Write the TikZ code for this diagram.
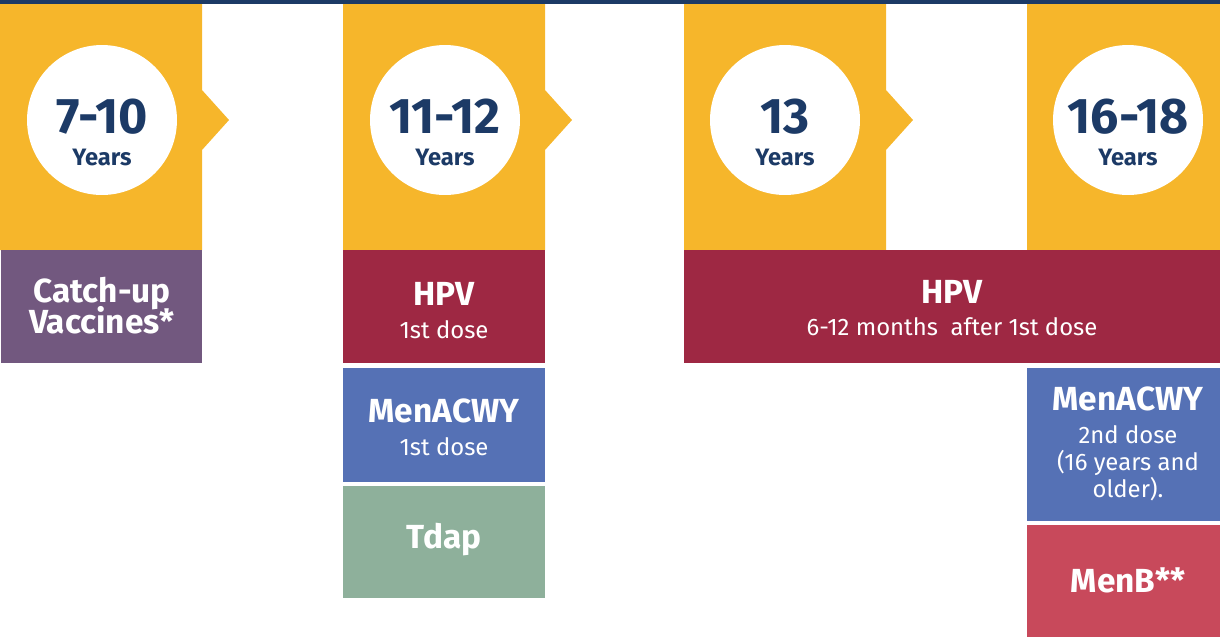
\documentclass[tikz,border=0pt]{standalone}
\usepackage{fontspec}
\setmainfont{Fira Sans}
\usepackage{xcolor}
\usepackage{tikz}
\usetikzlibrary{positioning}
\definecolor{navy}{HTML}{1C3A66}
\definecolor{gold}{HTML}{F6B62B}
\definecolor{catchup}{HTML}{72587F}
\definecolor{hpvred}{HTML}{9E2843}
\definecolor{menblue}{HTML}{5571B5}
\definecolor{tdapgreen}{HTML}{8EB09B}
\definecolor{menbred}{HTML}{C8495B}

\begin{document}
\begin{tikzpicture}[x=0.02cm,y=-0.02cm,
agecircle/.style={circle,fill=white,minimum size=3cm,inner sep=0},
agenum/.style={text=navy,font=\fontsize{28.5}{30}\selectfont\bfseries,anchor=base,inner sep=0},
ageyears/.style={text=navy,font=\fontsize{13.5}{15}\selectfont\bfseries,anchor=base,inner sep=0},
vaxname/.style={text=white,font=\fontsize{19}{21}\selectfont\bfseries,anchor=base,inner sep=0},
vaxnote/.style={text=white,font=\fontsize{13.6}{15}\selectfont,anchor=base,inner sep=0}]
\useasboundingbox (0,0) rectangle (1220,637);
\fill[navy] (0,0) rectangle (1220,4);
% age columns
\fill[gold] (0,4) rectangle (202,250) (202,90) -- (229,120) -- (202,150) -- cycle;
\fill[gold] (343,4) rectangle (545,250) (545,90) -- (572,120) -- (545,150) -- cycle;
\fill[gold] (684,4) rectangle (886,250) (886,90) -- (913,120) -- (886,150) -- cycle;
\fill[gold] (1027,4) rectangle (1220,250);
\node[agecircle] (c1) at (102,120) {};
\node[agecircle] (c2) at (445,120) {};
\node[agecircle] (c3) at (785,120) {};
\node[agecircle] (c4) at (1128,120) {};
\node[agenum] (a1) at (102,133) {7-10};
\node[agenum] (a2) at (445,133) {11-12};
\node[agenum] (a3) at (785,133) {13};
\node[agenum] (a4) at (1128,133) {16-18};
\node[ageyears] (y1) at (102,165) {Years};
\node[ageyears] (y2) at (445,165) {Years};
\node[ageyears] (y3) at (785,165) {Years};
\node[ageyears] (y4) at (1128,165) {Years};
% vaccine boxes
\fill[catchup] (1,250) rectangle (202,363);
\fill[hpvred] (343,250) rectangle (545,363);
\fill[menblue] (343,368) rectangle (545,482);
\fill[tdapgreen] (343,486) rectangle (545,598);
\fill[hpvred] (684,250) rectangle (1220,363);
\fill[menblue] (1027,368) rectangle (1220,521);
\fill[menbred] (1027,525) rectangle (1220,637);
\node[vaxname] (v1) at (102,302) {Catch-up};
\node[vaxname] (v1b) at (102,333) {Vaccines*};
\node[vaxname] (h1) at (444,305) {HPV};
\node[vaxnote] (h1n) at (444,338) {1st dose};
\node[vaxname] (m1) at (444,422) {MenACWY};
\node[vaxnote] (m1n) at (444,455) {1st dose};
\node[vaxname] (t1) at (444,548) {Tdap};
\node[vaxname] (h2) at (952,303) {HPV};
\node[vaxnote] (h2n) at (952,335) {6-12 months\ \ after 1st dose};
\node[vaxname] (m2) at (1128,410) {MenACWY};
\node[vaxnote] (m2n) at (1128,443) {2nd dose};
\node[vaxnote] (m2o) at (1128,470) {(16 years and};
\node[vaxnote] (m2p) at (1128,497) {older).};
\node[vaxname] (b2) at (1128,592) {MenB**};
\end{tikzpicture}
\end{document}
